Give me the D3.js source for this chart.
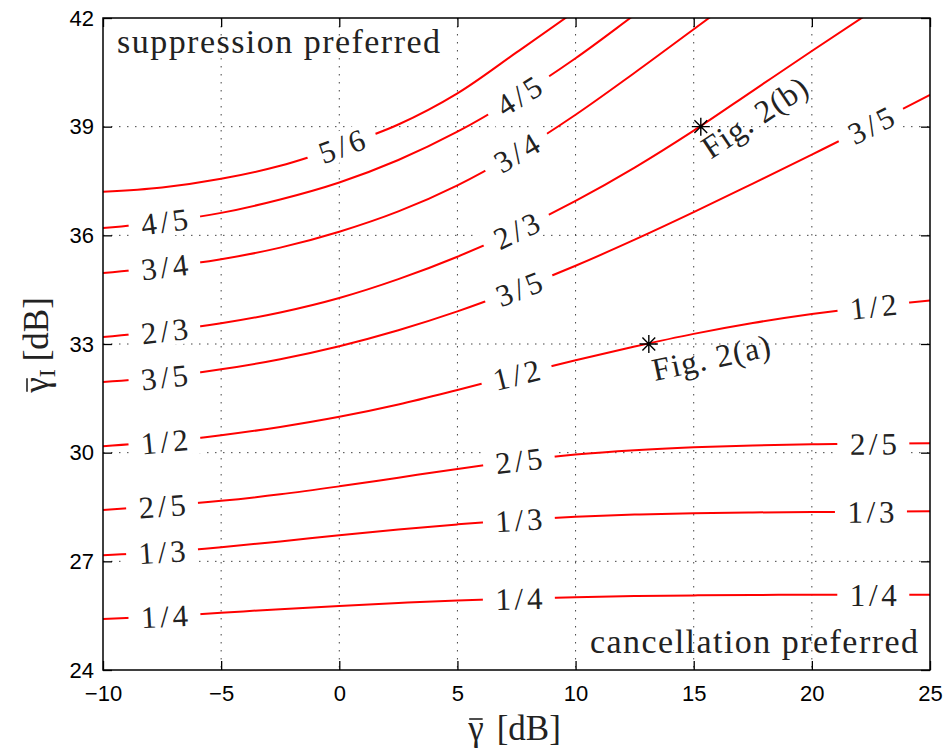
<!DOCTYPE html>
<html>
<head>
<meta charset="utf-8">
<script src="https://cdn.jsdelivr.net/npm/d3@7"></script>
<style>
body { margin: 0; background: #fff; }
svg { display: block; }
</style>
</head>
<body>
<div id="chart"></div>
<script>
// gamma (x) samples in dB, shared by every contour
const gammaDb = [-10, -7.5, -5, -2.5, 0, 2.5, 5, 7.5, 10, 12.5, 15, 17.5, 20, 22.5, 25];

// contour levels (gamma_I in dB, null = outside the plot)
const levelNames = ['5/6', '4/5', '3/4', '2/3', '3/5', '1/2', '2/5', '1/3', '1/4'];
const level56 = [37.20, 37.32, 37.56, 37.92, 38.44, 39.06, 39.92, 41.05, 42.20, 43.40, null, null, null, null, null];
const level45 = [36.20, 36.37, 36.62, 36.99, 37.46, 38.08, 38.86, 39.81, 40.89, 42.09, 43.30, null, null, null, null];
const level34 = [34.96, 35.12, 35.34, 35.66, 36.10, 36.66, 37.38, 38.28, 39.33, 40.49, 41.69, 42.89, null, null, null];
const level23 = [33.19, 33.35, 33.57, 33.87, 34.27, 34.79, 35.41, 36.13, 36.95, 37.87, 38.89, 39.99, 41.09, 42.17, 43.22];
const level35 = [31.95, 32.08, 32.30, 32.58, 32.94, 33.38, 33.90, 34.50, 35.16, 35.88, 36.64, 37.43, 38.23, 39.04, 39.88];
const level12 = [30.18, 30.30, 30.48, 30.71, 30.99, 31.33, 31.73, 32.15, 32.55, 32.93, 33.28, 33.58, 33.83, 34.03, 34.20];
const level25 = [28.42, 28.53, 28.67, 28.85, 29.07, 29.31, 29.55, 29.77, 29.95, 30.07, 30.15, 30.20, 30.23, 30.25, 30.26];
const level13 = [27.17, 27.26, 27.39, 27.55, 27.72, 27.88, 28.02, 28.14, 28.23, 28.29, 28.33, 28.35, 28.36, 28.37, 28.38];
const level14 = [25.41, 25.48, 25.58, 25.68, 25.77, 25.85, 25.92, 25.97, 26.01, 26.04, 26.06, 26.07, 26.08, 26.08, 26.08];
const levelValues = [level56, level45, level34, level23, level35, level12, level25, level13, level14];

// where the inline contour labels sit (gamma in dB)
const labelGamma = [[0.1], [-7.4, 7.6], [-7.4, 7.5], [-7.4, 7.5], [-7.4, 7.6, 22.5],
                    [-7.4, 7.5, 22.6], [-7.5, 7.6, 22.6], [-7.5, 7.6, 22.5], [-7.4, 7.6, 22.6]];

// marked operating points
const markerNames = ['Fig. 2(a)', 'Fig. 2(b)'];
const markerGamma = [13.1, 15.3];
const markerGammaI = [33, 39];
const markerLevel = ['1/2', '2/3'];

const xTicks = [-10, -5, 0, 5, 10, 15, 20, 25];
const yTicks = [24, 27, 30, 33, 36, 39, 42];

const margin = {top: 18, right: 17, bottom: 78, left: 103};
const width = 947, height = 748;
const w = width - margin.left - margin.right;
const h = height - margin.top - margin.bottom;

const svg = d3.select('#chart').append('svg')
    .attr('width', width).attr('height', height);
const g = svg.append('g').attr('transform', `translate(${margin.left},${margin.top})`);

const x = d3.scaleLinear().domain([-10, 25]).range([0, w]);
const y = d3.scaleLinear().domain([24, 42]).range([h, 0]);

const serif = '"Liberation Serif", "Times New Roman", serif';
const sans = '"Liberation Sans", Arial, sans-serif';

svg.append('defs').append('clipPath').attr('id', 'plotclip')
  .append('rect').attr('width', w).attr('height', h);

// dotted grid
g.append('g').selectAll('line')
    .data(xTicks.slice(1, -1)).enter().append('line')
    .attr('x1', d => x(d)).attr('x2', d => x(d))
    .attr('y1', 0).attr('y2', h)
    .attr('stroke', '#444').attr('stroke-width', 1).attr('stroke-dasharray', '1.5,6.5');
g.append('g').selectAll('line')
    .data(yTicks.slice(1, -1)).enter().append('line')
    .attr('y1', d => y(d)).attr('y2', d => y(d))
    .attr('x1', 0).attr('x2', w)
    .attr('stroke', '#444').attr('stroke-width', 1).attr('stroke-dasharray', '1.5,6.5');

// contour lines
const line = d3.line()
    .defined(d => d[1] != null)
    .x(d => x(d[0])).y(d => y(d[1]))
    .curve(d3.curveCatmullRom);

const curves = levelNames.map((name, i) => ({
  name: name,
  points: gammaDb.map((gx, j) => [gx, levelValues[i][j]])
}));

g.append('g').attr('clip-path', 'url(#plotclip)')
  .selectAll('path').data(curves).enter().append('path')
    .attr('d', d => line(d.points))
    .attr('fill', 'none')
    .attr('stroke', '#ff0000')
    .attr('stroke-width', 2);

// gamma_I along a contour (piecewise linear through the read values)
function levelAt(name, gx) {
  const c = curves.find(k => k.name === name);
  const pts = c.points.filter(p => p[1] != null);
  return d3.scaleLinear().domain(pts.map(p => p[0])).range(pts.map(p => p[1]))(gx);
}
function angleAt(name, gx) {
  const dx = x(gx + 0.4) - x(gx - 0.4);
  const dy = y(levelAt(name, gx + 0.4)) - y(levelAt(name, gx - 0.4));
  return Math.atan2(dy, dx) * 180 / Math.PI;
}

// inline labels with white boxes (they break line and grid)
const labels = [];
levelNames.forEach((name, i) => {
  labelGamma[i].forEach(gx => labels.push({name: name, gx: gx}));
});

const lab = g.append('g').selectAll('g').data(labels).enter().append('g')
    .attr('transform', d => `translate(${x(d.gx)},${y(levelAt(d.name, d.gx))}) rotate(${angleAt(d.name, d.gx)})`);
lab.append('rect')
    .attr('x', -36).attr('y', -15).attr('width', 72).attr('height', 30)
    .attr('fill', '#fff');
lab.append('text')
    .attr('text-anchor', 'middle')
    .attr('dy', '0.35em')
    .attr('font-family', serif)
    .attr('font-size', 31)
    .attr('textLength', 47)
    .attr('lengthAdjust', 'spacing')
    .attr('fill', '#222')
    .text(d => d.name);

// axes: inward ticks on all four sides
const fmt = d3.format('d');
g.append('g').attr('transform', `translate(0,${h})`)
    .call(d3.axisBottom(x).tickValues(xTicks).tickFormat(fmt).tickSizeInner(-9).tickSizeOuter(0).tickPadding(15))
    .call(a => a.select('.domain').remove())
    .call(a => a.selectAll('text').attr('font-family', sans).attr('font-size', 22).attr('fill', '#000'));
g.append('g')
    .call(d3.axisLeft(y).tickValues(yTicks).tickFormat(fmt).tickSizeInner(-9).tickSizeOuter(0).tickPadding(9))
    .call(a => a.select('.domain').remove())
    .call(a => a.selectAll('text').attr('font-family', sans).attr('font-size', 22).attr('fill', '#000'));
g.append('g')
    .call(d3.axisTop(x).tickValues(xTicks).tickFormat('').tickSizeInner(-9).tickSizeOuter(0))
    .call(a => a.select('.domain').remove());
g.append('g').attr('transform', `translate(${w},0)`)
    .call(d3.axisRight(y).tickValues(yTicks).tickFormat('').tickSizeInner(-9).tickSizeOuter(0))
    .call(a => a.select('.domain').remove());
g.selectAll('.tick line').attr('stroke', '#000').attr('stroke-width', 1.3);

g.append('rect')
    .attr('width', w).attr('height', h)
    .attr('fill', 'none').attr('stroke', '#000').attr('stroke-width', 1.5);

// region notes
g.append('text')
    .attr('x', 14).attr('y', 35)
    .attr('font-family', serif).attr('font-size', 34)
    .attr('textLength', 323).attr('lengthAdjust', 'spacing')
    .attr('fill', '#222')
    .text('suppression preferred');
g.append('text')
    .attr('x', w - 12).attr('y', h - 17)
    .attr('text-anchor', 'end')
    .attr('font-family', serif).attr('font-size', 34)
    .attr('textLength', 328).attr('lengthAdjust', 'spacing')
    .attr('fill', '#222')
    .text('cancellation preferred');

// operating-point markers
const markers = markerNames.map((n, i) => ({
  name: n, gx: markerGamma[i], gy: markerGammaI[i], level: markerLevel[i]
}));
const star = g.append('g').selectAll('g').data(markers).enter().append('g')
    .attr('transform', d => `translate(${x(d.gx)},${y(d.gy)})`);
star.append('path')
    .attr('d', 'M-9,0H9M0,-9V9M-6.4,-6.4L6.4,6.4M-6.4,6.4L6.4,-6.4')
    .attr('stroke', '#000').attr('stroke-width', 1.4);
star.append('text')
    .attr('transform', d => `translate(${d.name === 'Fig. 2(a)' ? 6 : 10},${d.name === 'Fig. 2(a)' ? 37 : 33}) rotate(${angleAt(d.level, d.gx)})`)
    .attr('font-family', serif).attr('font-size', 32)
    .attr('textLength', 120).attr('lengthAdjust', 'spacing')
    .attr('fill', '#222')
    .text(d => d.name);

// axis titles: gamma with an overbar drawn over the first glyph
function barredTitle(parent, transform, subscript) {
  const tg = parent.append('g').attr('transform', transform);
  const t = tg.append('text')
      .attr('text-anchor', 'middle')
      .attr('font-family', serif).attr('font-size', 35)
      .attr('fill', '#222');
  t.append('tspan').text('\u03b3');
  if (subscript) {
    t.append('tspan').attr('font-size', 24).attr('dy', 7).text(subscript);
    t.append('tspan').attr('dy', -7).attr('dx', 8).text('[dB]');
  } else {
    t.append('tspan').attr('dx', 13).text('[dB]');
  }
  const ext = t.node().getExtentOfChar(0);
  tg.append('line')
      .attr('x1', ext.x + 1).attr('x2', ext.x + ext.width - 1)
      .attr('y1', -21).attr('y2', -21)
      .attr('stroke', '#222').attr('stroke-width', 1.6);
}
barredTitle(svg, `translate(${margin.left + w / 2 - 2},740)`, null);
barredTitle(svg, 'translate(48,345) rotate(-90)', 'I');
</script>
</body>
</html>
